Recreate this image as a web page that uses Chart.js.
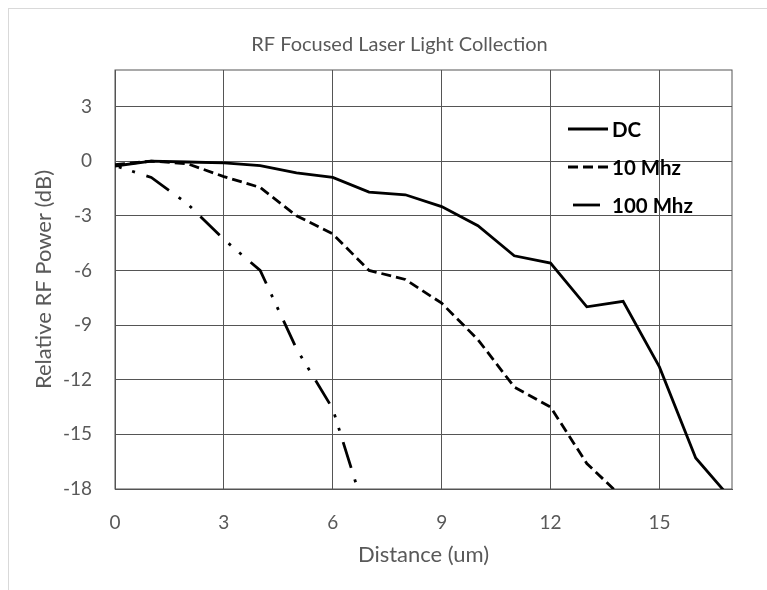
<!DOCTYPE html>
<html>
<head>
<meta charset="utf-8">
<title>RF Focused Laser Light Collection</title>
<script src="https://cdn.jsdelivr.net/npm/chart.js@4"></script>
<style>
  html, body { margin: 0; padding: 0; background: #fff; overflow: hidden; }
  #wrap {
    position: absolute; left: 8px; top: 8px;
    width: 781px; height: 600px;
    border-left: 1px solid #d9d9d9; border-top: 1px solid #d9d9d9;
  }
  canvas { display: block; }
</style>
</head>
<body>
<div id="wrap"><canvas id="rfChart" width="781" height="581"></canvas></div>
<script>
// Distance steps (um)
const distance = [0, 1, 2, 3, 4, 5, 6, 7, 8, 9, 10, 11, 12, 13, 14, 15, 16, 17];

// Relative RF power (dB) per series
const dcPower = [-0.27, 0, -0.05, -0.1, -0.25, -0.65, -0.9, -1.7, -1.85, -2.5, -3.55, -5.2, -5.6, -8.0, -7.7, -11.3, -16.3, -18.6];
const mhz10Power = [-0.2, 0, -0.15, -0.85, -1.45, -3.0, -4.0, -6.0, -6.5, -7.8, -9.8, -12.4, -13.5, -16.6, -18.5];
const mhz100Power = [-0.25, -0.9, -2.35, -4.3, -6.0, -10.3, -13.6, -20.0];

// Axis ticks
const xTicks = [0, 3, 6, 9, 12, 15];
const yTicks = [-18, -15, -12, -9, -6, -3, 0, 3];

const toPoints = (vals) => vals.map((v, i) => ({ x: distance[i], y: v }));

const gridColor = "#555555";
const textColor = "#595959";
const fontFamily = "Lato, 'Open Sans', sans-serif";

// Frame around the plot area (top and right edges have no axis)
const plotFrame = {
  id: "plotFrame",
  beforeDatasetsDraw(chart) {
    const { ctx, chartArea: a } = chart;
    ctx.save();
    ctx.strokeStyle = gridColor;
    ctx.lineWidth = 1;
    ctx.strokeRect(a.left, a.top, a.right - a.left, a.bottom - a.top);
    ctx.restore();
  },
};

// Legend drawn inside the plot, upper right
const insideLegend = {
  id: "insideLegend",
  afterDraw(chart) {
    const { ctx, chartArea: a } = chart;
    const x0 = a.left + 453;
    const lineLen = 40;
    ctx.save();
    ctx.font = "bold 20.5px " + fontFamily;
    ctx.textBaseline = "middle";
    ctx.fillStyle = "#000";
    chart.data.datasets.forEach((ds, i) => {
      const y = a.top + 59 + i * 38;
      ctx.beginPath();
      ctx.setLineDash(ds.borderDash || []);
      ctx.lineDashOffset = ds.legendDashOffset || 0;
      ctx.lineWidth = ds.borderWidth;
      ctx.strokeStyle = ds.borderColor;
      ctx.moveTo(x0, y);
      ctx.lineTo(x0 + lineLen, y);
      ctx.stroke();
      ctx.setLineDash([]);
      ctx.fillText(ds.label, x0 + lineLen + 4, y + 1);
    });
    ctx.restore();
  },
};

const rfChart = new Chart(document.getElementById("rfChart"), {
  type: "line",
  data: {
    datasets: [
      {
        label: "DC",
        data: toPoints(dcPower),
        borderColor: "#000",
        borderWidth: 2.8,
      },
      {
        label: "10 Mhz",
        data: toPoints(mhz10Power),
        borderColor: "#000",
        borderWidth: 2.8,
        borderDash: [10, 5],
      },
      {
        label: "100 Mhz",
        data: toPoints(mhz100Power),
        borderColor: "#000",
        borderWidth: 2.8,
        borderDash: [27, 12, 3, 11, 3, 12],
        borderDashOffset: 35,
        legendDashOffset: 63,
      },
    ],
  },
  options: {
    responsive: false,
    animation: false,
    layout: { padding: 0 },
    elements: {
      point: { radius: 0 },
      line: { tension: 0, fill: false },
    },
    datasets: { line: { clip: 0 } },
    scales: {
      x: {
        type: "linear",
        min: 0,
        max: 17,
        afterBuildTicks: (s) => { s.ticks = xTicks.map((v) => ({ value: v })); },
        afterFit: (s) => { s.height = 101; },
        grid: { color: gridColor, drawTicks: false },
        border: { color: gridColor },
        ticks: { color: textColor, padding: 22, font: { family: fontFamily, size: 19 } },
        title: {
          display: true,
          text: "Distance (um)",
          color: textColor,
          font: { family: fontFamily, size: 22 },
          padding: { top: 0, bottom: 22 },
        },
      },
      y: {
        min: -18,
        max: 5,
        afterBuildTicks: (s) => { s.ticks = yTicks.map((v) => ({ value: v })); },
        afterFit: (s) => { s.width = 106; },
        grid: { color: gridColor, drawTicks: false },
        border: { color: gridColor },
        ticks: { color: textColor, padding: 23, font: { family: fontFamily, size: 19 } },
        title: {
          display: true,
          text: "Relative RF Power (dB)",
          color: textColor,
          font: { family: fontFamily, size: 22 },
          padding: { top: 22, bottom: 0 },
        },
      },
      // empty right-hand margin so the chart title stays centred on the full width
      yRight: {
        position: "right",
        display: true,
        afterFit: (s) => { s.width = 58; },
        grid: { display: false },
        border: { display: false },
        ticks: { display: false },
      },
    },
    plugins: {
      legend: { display: false },
      tooltip: { enabled: false },
      title: {
        display: true,
        text: "RF Focused Laser Light Collection",
        color: textColor,
        font: { family: fontFamily, size: 20, weight: "normal" },
        padding: { top: 24, bottom: 13 },
      },
    },
  },
  plugins: [plotFrame, insideLegend],
});
</script>
</body>
</html>
